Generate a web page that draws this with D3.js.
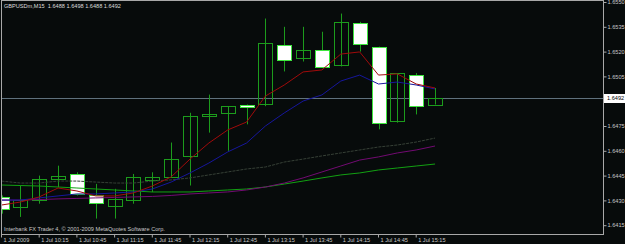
<!DOCTYPE html>
<html>
<head>
<meta charset="utf-8">
<script src="https://cdn.jsdelivr.net/npm/d3@7"></script>
<style>
html, body { margin: 0; padding: 0; background: #070b0b; }
svg { display: block; }
text { font-family: "Liberation Sans", Arial, sans-serif; }
</style>
</head>
<body>
<div id="chart"></div>
<script>

// bars, 1 Jul 2009, M15
var times = ["09:45","10:00","10:15","10:30","10:45","11:00","11:15","11:30","11:45","12:00","12:15","12:30",
             "12:45","13:00","13:15","13:30","13:45","14:00","14:15","14:30","14:45","15:00","15:15","15:30"];
var opens  = [1.6432,1.6426,1.6430,1.6443,1.6446,1.6433,1.6427,1.6430,1.6442,1.6444,1.6457,1.6481,
              1.6483,1.6488,1.6488,1.6524,1.6516,1.6521,1.6512,1.6537,1.6523,1.6478,1.6506,1.6488];
var highs  = [1.6433,1.6439,1.6445,1.6451,1.6447,1.6440,1.6437,1.6446,1.6447,1.6465,1.6483,1.6494,
              1.6487,1.6488,1.6540,1.6535,1.6535,1.6532,1.6543,1.6538,1.6523,1.6507,1.6507,1.6498];
var lows   = [1.6422,1.6420,1.6428,1.6438,1.6433,1.6419,1.6419,1.6428,1.6435,1.6444,1.6439,1.6471,
              1.6460,1.6476,1.6487,1.6508,1.6514,1.6510,1.6511,1.6520,1.6473,1.6477,1.6482,1.6488];
var closes = [1.6425,1.6430,1.6443,1.6445,1.6434,1.6428,1.6431,1.6444,1.6444,1.6455,1.6481,1.6482,
              1.6487,1.6487,1.6525,1.6515,1.6521,1.6511,1.6538,1.6524,1.6477,1.6507,1.6487,1.6492];

// moving averages
var maRed    = [1.64272,1.64290,1.64321,1.64375,1.64357,1.64327,1.64327,1.64345,1.64387,1.64442,1.64550,1.64647,
                1.64726,1.64774,1.64931,1.64998,1.65077,1.65089,1.65185,1.65198,1.65058,1.65065,1.65004,1.64980];
var maBlue   = [1.64302,1.64302,1.64315,1.64327,1.64339,1.64339,1.64345,1.64351,1.64369,1.64411,1.64466,1.64526,
                1.64593,1.64647,1.64750,1.64829,1.64901,1.64938,1.65022,1.65058,1.65004,1.65016,1.64998,1.64974];
var maGray   = [1.64417,1.64405,1.64405,1.64417,1.64417,1.64411,1.64405,1.64405,1.64417,1.64424,1.64436,1.64454,
                1.64472,1.64490,1.64502,1.64532,1.64550,1.64569,1.64587,1.64605,1.64623,1.64635,1.64653,1.64677];
var maPurple = [1.64302,1.64302,1.64305,1.64309,1.64312,1.64315,1.64318,1.64321,1.64324,1.64330,1.64339,1.64345,
                1.64351,1.64363,1.64381,1.64405,1.64436,1.64472,1.64508,1.64544,1.64563,1.64587,1.64605,1.64629];
var maGreen  = [1.64393,1.64390,1.64387,1.64381,1.64375,1.64369,1.64363,1.64357,1.64351,1.64351,1.64351,1.64357,
                1.64363,1.64369,1.64381,1.64399,1.64417,1.64436,1.64454,1.64466,1.64484,1.64496,1.64508,1.64520];

var priceTicks = [1.6415,1.6430,1.6445,1.6460,1.6475,1.6505,1.6520,1.6535,1.6550];
var timeTicks  = [0,2,4,6,8,10,12,14,16,18,20,22];
var timeLabels = ["1 Jul 2009","1 Jul 10:15","1 Jul 10:45","1 Jul 11:15","1 Jul 11:45","1 Jul 12:15",
                  "1 Jul 12:45","1 Jul 13:15","1 Jul 13:45","1 Jul 14:15","1 Jul 14:45","1 Jul 15:15"];
var symbol = "GBPUSDm,M15";
var lastPrice = 1.6492;

var W = 625, H = 244;
var pL = 2, pR = 603, pT = 1, pB = 234;

var svg = d3.select("#chart").append("svg")
    .attr("width", W)
    .attr("height", H);

svg.append("rect").attr("width", W).attr("height", H).attr("fill", "#070b0b");

var x = d3.scaleLinear().domain([0, 23]).range([1.5, 1.5 + 18.85 * 23]);
var y = d3.scaleLinear().domain([1.6415, 1.6550]).range([225.2, 2]);

var bars = times.map(function(t, i) {
    return {i: i, t: t, o: opens[i], h: highs[i], l: lows[i], c: closes[i]};
});

svg.append("clipPath").attr("id", "plotclip")
  .append("rect").attr("x", pL).attr("y", pT).attr("width", pR - pL).attr("height", pB - pT);

var inner = svg.append("g").attr("clip-path", "url(#plotclip)");

// current price line
var ly = Math.round(y(lastPrice));
inner.append("line")
    .attr("x1", pL).attr("x2", pR)
    .attr("y1", ly + 0.5).attr("y2", ly + 0.5)
    .attr("stroke", "#5f717d");

// candles
var green = "#1c9c1c";
inner.selectAll(".wick").data(bars).enter().append("line")
    .attr("class", "wick")
    .attr("x1", function(d) { return Math.round(x(d.i)) + 0.5; })
    .attr("x2", function(d) { return Math.round(x(d.i)) + 0.5; })
    .attr("y1", function(d) { return y(d.h); })
    .attr("y2", function(d) { return y(d.l); })
    .attr("stroke", green);

inner.selectAll(".body").data(bars).enter().append("rect")
    .attr("class", "body")
    .attr("x", function(d) { return Math.round(x(d.i)) - 7 + 0.5; })
    .attr("width", 14)
    .attr("y", function(d) { return Math.round(y(Math.max(d.o, d.c))) + 0.5; })
    .attr("height", function(d) { return Math.max(1, Math.round(Math.abs(y(d.o) - y(d.c)))); })
    .attr("fill", function(d) { return d.c < d.o ? "#ffffff" : "none"; })
    .attr("stroke", function(d) { return d.c < d.o ? "#3ee63e" : green; });

// moving averages
var line = d3.line()
    .x(function(d, i) { return x(i); })
    .y(function(d) { return y(d); });

var mas = [
    {v: maGreen,  color: "#12a012", dash: null},
    {v: maPurple, color: "#720a72", dash: null},
    {v: maGray,   color: "#364036", dash: "3,1"},
    {v: maBlue,   color: "#16169c", dash: null},
    {v: maRed,    color: "#a00a0a", dash: null}
];
mas.forEach(function(m) {
    inner.append("path")
        .attr("d", line(m.v))
        .attr("fill", "none")
        .attr("stroke", m.color)
        .attr("stroke-width", 1)
        .attr("stroke-dasharray", m.dash);
});

// frame
svg.append("rect")
    .attr("x", pL - 0.5).attr("y", pT - 0.5)
    .attr("width", pR - pL + 1).attr("height", pB - pT + 1)
    .attr("fill", "none").attr("stroke", "#a8a8a8");

// price axis
var yAxis = d3.axisRight(y)
    .tickValues(priceTicks)
    .tickSize(3)
    .tickPadding(1)
    .tickFormat(d3.format(".4f"));

var ya = svg.append("g")
    .attr("transform", "translate(" + (pR + 0.5) + ",0)")
    .call(yAxis);
ya.select(".domain").remove();
ya.selectAll("line").attr("stroke", "#a8a8a8");
ya.selectAll("text").attr("fill", "#c8c8c8").style("font-size", "5.6px");

// last price tag
svg.append("rect")
    .attr("x", pR + 1).attr("y", ly - 4)
    .attr("width", 21).attr("height", 9)
    .attr("fill", "#ffffff");
svg.append("text")
    .attr("x", pR + 4).attr("y", ly + 2.3)
    .attr("fill", "#000")
    .style("font-size", "5.6px")
    .text(d3.format(".4f")(lastPrice));

// time axis
var xAxis = d3.axisBottom(x)
    .tickValues(timeTicks)
    .tickSize(3)
    .tickFormat(function(d, i) { return timeLabels[i]; });

var xa = svg.append("g")
    .attr("transform", "translate(-0.5," + (pB + 0.5) + ")")
    .call(xAxis);
xa.select(".domain").remove();
xa.selectAll("line").attr("stroke", "#a8a8a8");
xa.selectAll("text")
    .attr("fill", "#c8c8c8")
    .attr("text-anchor", "start")
    .attr("x", 2)
    .attr("y", 4)
    .style("font-size", "5.6px");

// header + footer
var last = bars[bars.length - 1];
svg.append("text")
    .attr("x", 4).attr("y", 8)
    .attr("fill", "#dcdcdc")
    .style("font-size", "5.6px")
    .attr("xml:space", "preserve")
    .text(symbol + "  " + [last.o, last.h, last.l, last.c].map(d3.format(".4f")).join(" "));

svg.append("text")
    .attr("x", 4).attr("y", 231)
    .attr("fill", "#c8c8c8")
    .style("font-size", "5.6px")
    .text("Interbank FX Trader 4, \u00a9 2001-2009 MetaQuotes Software Corp.");

</script>
</body>
</html>
